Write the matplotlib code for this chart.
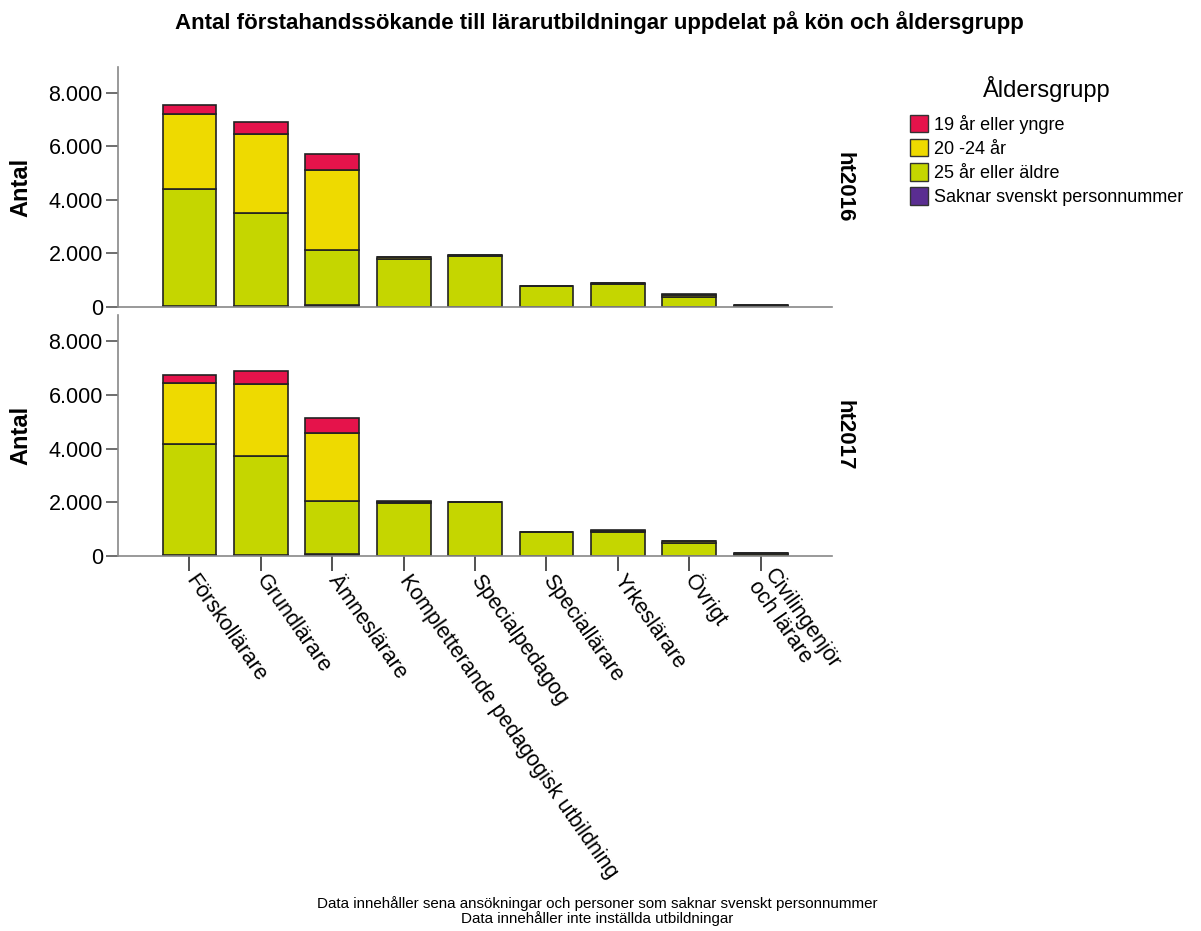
import matplotlib
matplotlib.use("Agg")
import matplotlib.pyplot as plt
import numpy as np
from matplotlib.patches import Patch
from matplotlib.ticker import FuncFormatter

plt.rcParams['font.family'] = ['Liberation Sans', 'DejaVu Sans']

categories = ["Förskollärare", "Grundlärare", "Ämneslärare",
              "Kompletterande pedagogisk utbildning", "Specialpedagog",
              "Speciallärare", "Yrkeslärare", "Övrigt", "Civilingenjör\noch lärare"]
panels = ["ht2016", "ht2017"]
series_names = ["19 år eller yngre", "20 -24 år", "25 år eller äldre", "Saknar svenskt personnummer"]

# ht2016
saknar_2016 = [20, 40, 80, 10, 5, 5, 5, 5, 0]
age25_2016 = [4380, 3480, 2050, 1800, 1900, 780, 870, 380, 40]
age20_2016 = [2810, 2950, 2980, 60, 25, 10, 30, 80, 25]
age19_2016 = [350, 460, 610, 10, 5, 0, 5, 10, 5]
# ht2017
saknar_2017 = [20, 50, 70, 10, 5, 5, 5, 5, 0]
age25_2017 = [4130, 3680, 1960, 1950, 1995, 870, 900, 460, 60]
age20_2017 = [2270, 2670, 2540, 60, 20, 10, 40, 90, 40]
age19_2017 = [310, 480, 550, 10, 0, 0, 5, 10, 10]

yticks = [0, 2000, 4000, 6000, 8000]

colors = {"19 år eller yngre": "#E5134B", "20 -24 år": "#EEDA00",
          "25 år eller äldre": "#C5D600", "Saknar svenskt personnummer": "#5A2D91"}

data = {
    "ht2016": [saknar_2016, age25_2016, age20_2016, age19_2016],
    "ht2017": [saknar_2017, age25_2017, age20_2017, age19_2017],
}
stack_order = ["Saknar svenskt personnummer", "25 år eller äldre", "20 -24 år", "19 år eller yngre"]

fig = plt.figure(figsize=(12.01, 9.31), dpi=100)
axes_pos = [[0.0983, 0.6703, 0.5945, 0.2577], [0.0983, 0.4028, 0.5945, 0.2589]]

fmt = FuncFormatter(lambda v, p: f"{int(v):,}".replace(",", "."))
x = np.arange(len(categories))
for i, (panel, pos) in enumerate(zip(panels, axes_pos)):
    ax = fig.add_axes(pos)
    bottom = np.zeros(len(categories))
    for name, vals in zip(stack_order, data[panel]):
        vals = np.array(vals, dtype=float)
        ax.bar(x, vals, width=0.755, bottom=bottom, color=colors[name],
               edgecolor="#222222", linewidth=1.2)
        bottom += vals
    ax.set_xlim(-1.0, 9.0)
    ax.set_ylim(0, 8970)
    ax.set_yticks(yticks)
    ax.yaxis.set_major_formatter(fmt)
    for s in ["top", "right"]:
        ax.spines[s].set_visible(False)
    for s in ["left", "bottom"]:
        ax.spines[s].set_color("#888888")
        ax.spines[s].set_linewidth(1.2)
    ax.tick_params(axis='y', length=9, width=1.2, color="#555555", labelsize=15.5, pad=2)
    ax.set_ylabel("Antal", fontsize=17, fontweight='bold')
    ax.yaxis.set_label_coords(-0.12, 0.5)
    ax.text(1.017, 0.5, panel, transform=ax.transAxes, rotation=270,
            ha='center', va='center', fontsize=16, fontweight='bold')
    if i == 0:
        ax.set_xticks([])
    else:
        ax.set_xticks(x)
        ax.set_xticklabels(categories, rotation=-55, ha='left', va='center',
                           rotation_mode='anchor', fontsize=15.5, linespacing=0.95)
        ax.tick_params(axis='x', length=11, width=1.2, color="#333333", pad=4)

fig.suptitle("Antal förstahandssökande till lärarutbildningar uppdelat på kön och åldersgrupp",
             x=0.499, y=0.988, fontsize=16, fontweight='bold')

handles = [Patch(facecolor=colors[n], edgecolor="#333333", linewidth=1) for n in series_names]
leg = fig.legend(handles, series_names, title="Åldersgrupp", loc='upper left',
                 bbox_to_anchor=(0.752, 0.926), frameon=False, fontsize=13,
                 title_fontsize=17, handlelength=1.0, handleheight=1.1,
                 handletextpad=0.3, labelspacing=0.3, borderaxespad=0)
leg._legend_box.align = "center"
leg._legend_box.sep = 9

fig.text(0.497, 0.021, "Data innehåller sena ansökningar och personer som saknar svenskt personnummer\nData innehåller inte inställda utbildningar",
         ha='center', va='center', fontsize=10.9, linespacing=1.0)

fig.savefig("out.png", dpi=100)
